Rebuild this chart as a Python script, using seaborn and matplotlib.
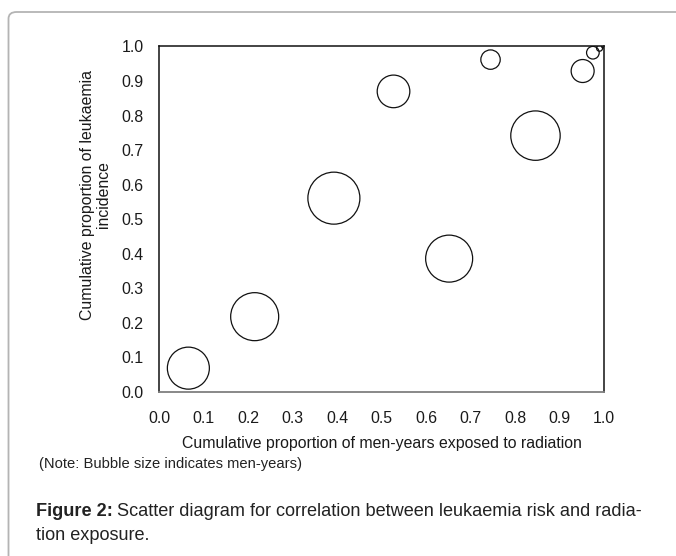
import pandas as pd
import numpy as np
import matplotlib
matplotlib.use('Agg')
import matplotlib.pyplot as plt
import seaborn as sns
from matplotlib.patches import FancyBboxPatch

# data
cum_men_years = [0.066, 0.215, 0.393, 0.527, 0.652, 0.745, 0.846, 0.952, 0.975, 0.990, 0.998]
cum_leukaemia = [0.069, 0.218, 0.561, 0.870, 0.386, 0.962, 0.742, 0.929, 0.982, 0.995, 1.000]
men_years = [441, 576, 676, 266, 552, 94, 610, 132, 40, 9, 2]
ticks = [0.0, 0.1, 0.2, 0.3, 0.4, 0.5, 0.6, 0.7, 0.8, 0.9, 1.0]

df = pd.DataFrame({'x': cum_men_years, 'y': cum_leukaemia, 'my': men_years})

sns.set_style('white')
plt.rcParams['font.family'] = ['Liberation Sans', 'DejaVu Sans']

fig = plt.figure(figsize=(6.76, 5.56), dpi=100)
ax = fig.add_axes([0.2352, 0.295, 0.6583, 0.6214])

# grey rounded frame round the figure panel
frame = FancyBboxPatch((8.5 / 676, -0.2), 1.2, 1.2 - 12 / 556,
                       boxstyle='round,pad=0,rounding_size=0.012',
                       transform=fig.transFigure, fill=False,
                       edgecolor='#b4b4b4', linewidth=1.3, zorder=0)
fig.patches.append(frame)

sns.scatterplot(data=df, x='x', y='y', size='my', sizes=(0, 1402),
                size_norm=(0, 676), facecolor='none', edgecolor='#111111',
                linewidth=0.9, legend=False, ax=ax)

fs = 11.4
ax.set_xlim(0, 1)
ax.set_ylim(0, 1)
ax.set_xticks(ticks)
ax.set_yticks(ticks)
ax.set_xticklabels([f'{t:.1f}' for t in ticks], fontsize=fs, color='#1a1a1a')
ax.set_yticklabels([f'{t:.1f}' for t in ticks], fontsize=fs, color='#1a1a1a')
ax.tick_params(axis='x', direction='in', length=4, width=1, color='#7f7f7f', pad=14)
ax.tick_params(axis='y', direction='out', length=5, width=1, color='#111111', pad=6)
for s in ['top', 'right', 'left']:
    ax.spines[s].set_color('#111111')
    ax.spines[s].set_linewidth(1.1)
ax.spines['bottom'].set_color('#7f7f7f')
ax.spines['bottom'].set_linewidth(1.3)

ax.set_xlabel('Cumulative proportion of men-years exposed to radiation',
              fontsize=fs, color='#1a1a1a', labelpad=7)
ax.set_ylabel('Cumulative proportion of leukaemia\nincidence',
              fontsize=fs, color='#1a1a1a', linespacing=1.1)
ax.yaxis.set_label_coords(-0.108, 0.571)

fig.text(39 / 676, 1 - 464 / 556, '(Note: Bubble size indicates men-years)',
         fontsize=10.6, color='#222222', va='center')

cap = 13.1
t1 = fig.text(36 / 676, 1 - 511 / 556, 'Figure 2:', fontsize=cap,
              fontweight='bold', color='#222222', va='center')
fig.canvas.draw()
bb = t1.get_window_extent(renderer=fig.canvas.get_renderer())
fig.text(bb.x1 / 676 + 4 / 676, 1 - 511 / 556,
         'Scatter diagram for correlation between leukaemia risk and radia-',
         fontsize=cap, color='#222222', va='center')
fig.text(36 / 676, 1 - 535 / 556, 'tion exposure.', fontsize=cap,
         color='#222222', va='center')

fig.savefig('out.png', dpi=100)
